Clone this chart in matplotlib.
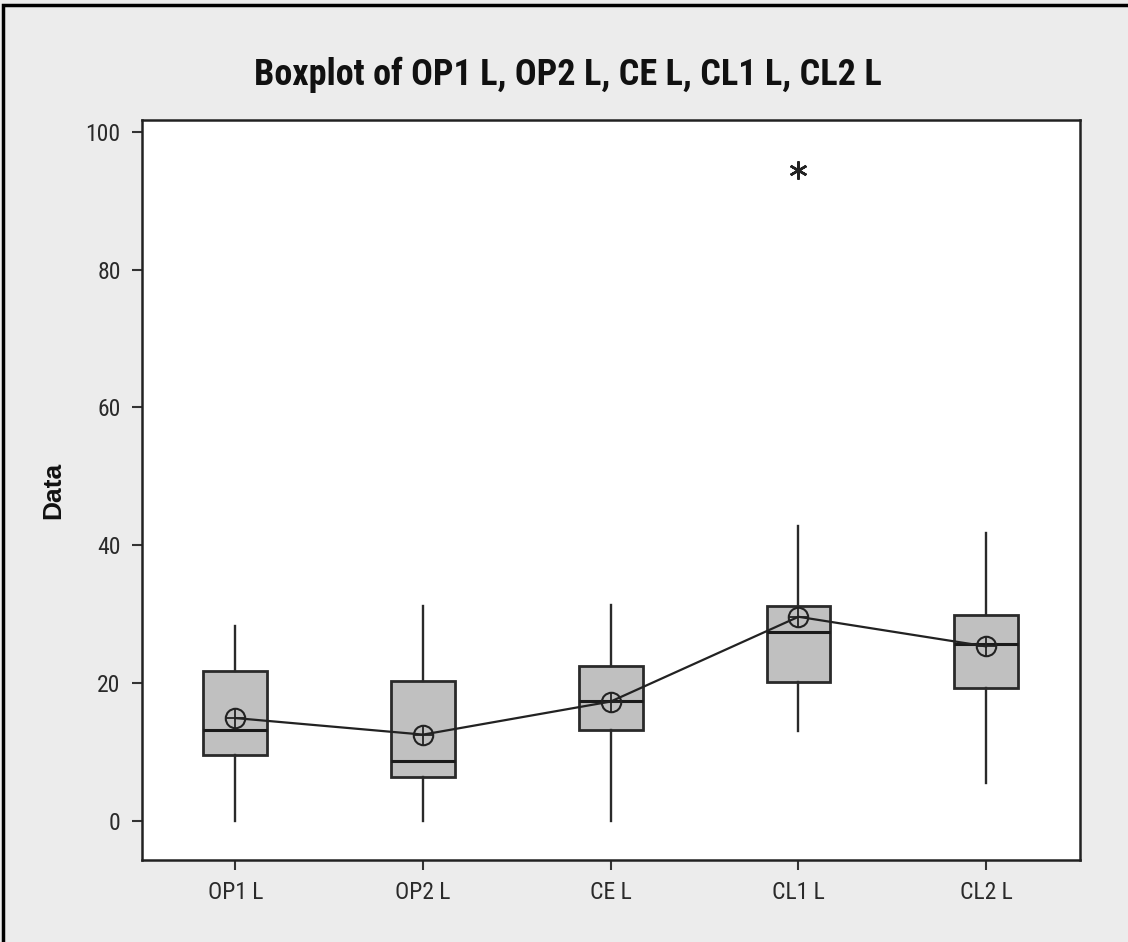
import matplotlib
matplotlib.use("Agg")
import matplotlib.pyplot as plt
from matplotlib.patches import Rectangle
from matplotlib import font_manager

categories = ["OP1 L", "OP2 L", "CE L", "CL1 L", "CL2 L"]
q1 = [9.5, 6.3, 13.1, 20.2, 19.2]
medians = [13.1, 8.7, 17.4, 27.4, 25.6]
q3 = [21.7, 20.3, 22.4, 31.2, 29.9]
whislo = [0.0, 0.0, 0.0, 13.0, 5.5]
whishi = [28.2, 31.1, 31.3, 42.8, 41.7]
means = [14.9, 12.5, 17.3, 29.6, 25.3]
outliers = [[], [], [], [94.5], []]
yticks = [0, 20, 40, 60, 80, 100]

names = {f.name for f in font_manager.fontManager.ttflist}
narrow = "Liberation Sans Narrow" if "Liberation Sans Narrow" in names else "Roboto Condensed" if "Roboto Condensed" in names else "DejaVu Sans"

fig = plt.figure(figsize=(11.28, 9.42), dpi=100)
fig.patch.set_facecolor("#ececec")
fig.add_artist(Rectangle((0.003, -0.05), 1.1, 1.045, transform=fig.transFigure,
                         fill=False, edgecolor="black", linewidth=2.5))

ax = fig.add_axes([141.5 / 1128, 1 - 860 / 942, (1080 - 141.5) / 1128, (860 - 120) / 942])
ax.set_facecolor("white")

stats = []
for i, c in enumerate(categories):
    stats.append(dict(label=c, q1=q1[i], med=medians[i], q3=q3[i],
                      whislo=whislo[i], whishi=whishi[i], mean=means[i],
                      fliers=outliers[i]))
pos = list(range(1, len(categories) + 1))
ax.bxp(stats, positions=pos, widths=0.34, patch_artist=True, showcaps=False,
       showmeans=False,
       boxprops=dict(facecolor="#c0c0c0", edgecolor="#2a2a2a", linewidth=2),
       medianprops=dict(color="#1a1a1a", linewidth=2.2),
       whiskerprops=dict(color="#2a2a2a", linewidth=1.7),
       flierprops=dict(marker=(6, 2, 0), markersize=13, markeredgecolor="#222222",
                       markeredgewidth=1.8, linestyle="none"))

ax.plot(pos, means, color="#222222", linewidth=1.6, zorder=5)
ax.plot(pos, means, linestyle="none", marker="o", markersize=14, markerfacecolor="none",
        markeredgecolor="#222222", markeredgewidth=1.5, zorder=6)
ax.plot(pos, means, linestyle="none", marker="+", markersize=14,
        markeredgecolor="#222222", markeredgewidth=1.3, zorder=6)

ax.set_xlim(0.5, 5.5)
ax.set_ylim(-5.7, 101.7)
ax.set_yticks(yticks)
ax.set_yticklabels([str(v) for v in yticks])
ax.set_xticks(pos)
ax.set_xticklabels(categories)
for lab in ax.get_xticklabels() + ax.get_yticklabels():
    lab.set_fontfamily(narrow)
    lab.set_fontsize(17)
    lab.set_color("#2a2a2a")
ax.tick_params(direction="out", length=7, width=1.5, color="#333333", pad=8)
for s in ax.spines.values():
    s.set_linewidth(1.8)
    s.set_color("#222222")

fig.text(53 / 1128, 1 - 490 / 942, "Data", rotation=90, ha="center", va="center",
         fontsize=19, fontweight="bold", family="Liberation Sans", color="#111111")
fig.text(568 / 1128, 1 - 75 / 942, "Boxplot of OP1 L, OP2 L, CE L, CL1 L, CL2 L",
         ha="center", va="center", fontsize=26, fontweight="bold", family=narrow,
         color="#111111")

fig.savefig("out.png", dpi=100, facecolor=fig.get_facecolor())
